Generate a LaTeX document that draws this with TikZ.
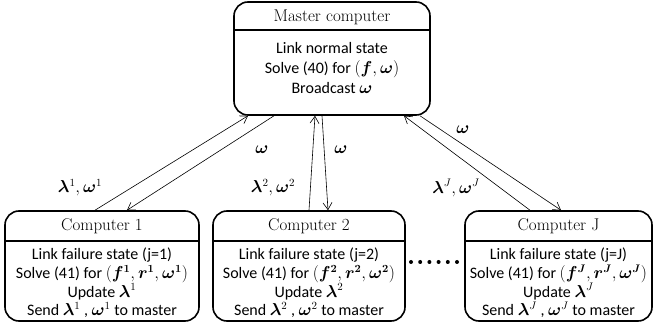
\documentclass[tikz,border=0pt]{standalone}
\usepackage{amsmath,bm}
\usepackage{fontspec}
\newfontfamily\bodyfont{Carlito}
\usetikzlibrary{arrows.meta}

\begin{document}
\begin{tikzpicture}[x=1pt, y=-1pt, line width=0.6pt,
  box/.style={draw, line width=1.6pt, rounded corners=14pt, minimum width=194pt, minimum height=110pt, inner sep=0pt},
  title/.style={font=\fontsize{17}{20}\selectfont, inner sep=0pt},
  body/.style={font=\bodyfont\fontsize{16}{18.6}\selectfont, align=center, inner sep=0pt},
  msg/.style={-{Straight Barb[length=7pt,width=9pt]}},
  lbl/.style={font=\fontsize{16}{18}\selectfont, inner sep=0pt}]
  \useasboundingbox (0,0) rectangle (654,331);
  % master
  \node[box, minimum width=196pt, minimum height=113pt] (mas) at (332,58.5) {};
  \draw[line width=1.6pt] (mas.west |- 0,30) -- (mas.east |- 0,30);
  \node[title] (mast) at (332,17) {Master computer};
  \node[body, font=\bodyfont\fontsize{16}{20}\selectfont] (masb) at (332,68) {Link normal state\\ Solve (40) for $(\bm{f},\bm{\omega})$\\ Broadcast $\bm{\omega}$};
  % computers
  \node[box] (c1) at (102,266) {};
  \draw[line width=1.6pt] (c1.west |- 0,241) -- (c1.east |- 0,241);
  \node[title] (c1t) at (102,226) {Computer 1};
  \node[body] (c1b) at (102,283) {Link failure state (j=1)\\ Solve (41) for $(\bm{f^1},\bm{r^1},\bm{\omega^1})$\\ Update $\bm{\lambda}^1$\\ Send $\bm{\lambda}^1$ , $\bm{\omega}^1$ to master};
  \node[box, minimum width=192pt] (c2) at (309,266) {};
  \draw[line width=1.6pt] (c2.west |- 0,241) -- (c2.east |- 0,241);
  \node[title] (c2t) at (309,226) {Computer 2};
  \node[body] (c2b) at (309,283) {Link failure state (j=2)\\ Solve (41) for $(\bm{f^2},\bm{r^2},\bm{\omega^2})$\\ Update $\bm{\lambda}^2$\\ Send $\bm{\lambda}^2$ , $\bm{\omega}^2$ to master};
  \node[box, minimum width=187pt] (cJ) at (558.5,266) {};
  \draw[line width=1.6pt] (cJ.west |- 0,241) -- (cJ.east |- 0,241);
  \node[title] (cJt) at (558.5,226) {Computer J};
  \node[body] (cJb) at (558.5,283) {Link failure state (j=J)\\ Solve (41) for $(\bm{f^J},\bm{r^J},\bm{\omega^J})$\\ Update $\bm{\lambda}^J$\\ Send $\bm{\lambda}^J$ , $\bm{\omega}^J$ to master};
  \foreach \i in {0,...,5}
    \fill (411+\i*9.2,262) circle (2);
  % messages
  \draw[msg] (c1.north -| 95,0) -- (mas.south -| 248,0);
  \draw[msg] (mas.south -| 274,0) -- (c1.north -| 127,0);
  \draw[msg] (c2.north -| 309,0) -- (mas.south -| 315,0);
  \draw[msg] (mas.south -| 322,0) -- (c2.north -| 328,0);
  \draw[msg] (cJ.north -| 530,0) -- (mas.south -| 404,0);
  \draw[msg] (mas.south -| 420,0) -- (cJ.north -| 561,0);
  \node[lbl] (w1) at (262,150) {$\bm{\omega}$};
  \node[lbl] (w2) at (341,150) {$\bm{\omega}$};
  \node[lbl] (wJ) at (463,130) {$\bm{\omega}$};
  \node[lbl] (l1) at (80,188) {$\bm{\lambda}^1, \bm{\omega}^1$};
  \node[lbl] (l2) at (273,188) {$\bm{\lambda}^2, \bm{\omega}^2$};
  \node[lbl] (lJ) at (456,188) {$\bm{\lambda}^J, \bm{\omega}^J$};
\end{tikzpicture}
\end{document}
